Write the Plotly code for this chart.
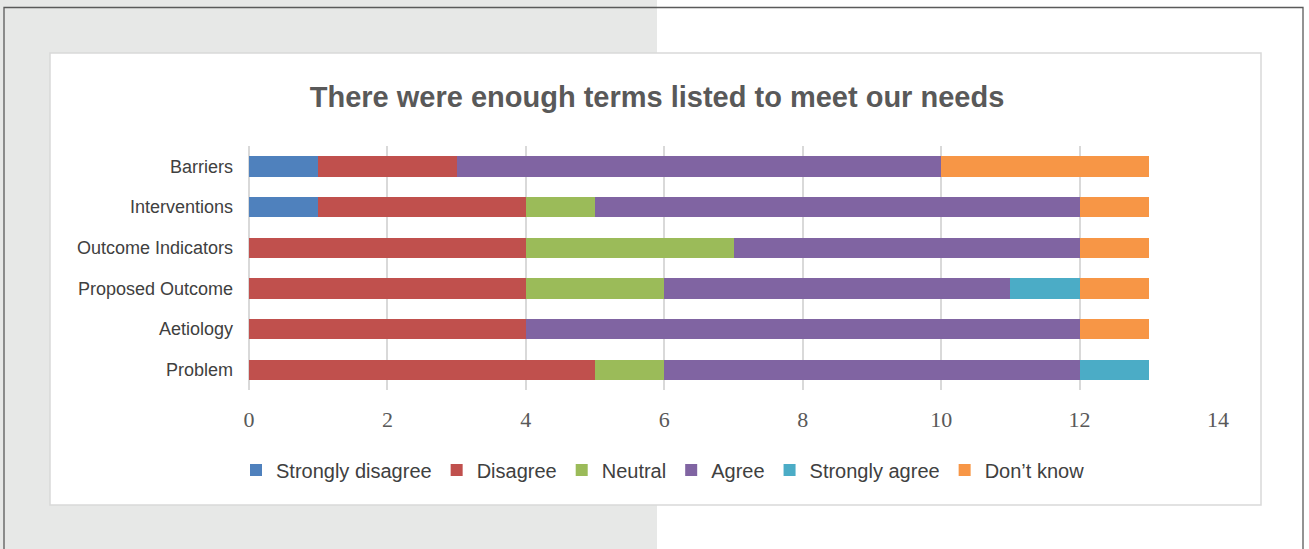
import plotly.graph_objects as go

categories = ["Barriers", "Interventions", "Outcome Indicators", "Proposed Outcome", "Aetiology", "Problem"]
strongly_disagree = [1, 1, 0, 0, 0, 0]
disagree = [2, 3, 4, 4, 4, 5]
neutral = [0, 1, 3, 2, 0, 1]
agree = [7, 7, 5, 5, 8, 6]
strongly_agree = [0, 0, 0, 1, 0, 1]
dont_know = [3, 1, 1, 1, 1, 0]

series_names = ["Strongly disagree", "Disagree", "Neutral", "Agree", "Strongly agree", "Don\u2019t know"]
series_values = [strongly_disagree, disagree, neutral, agree, strongly_agree, dont_know]
colors = ["#4F81BD", "#C0504D", "#9BBB59", "#8064A2", "#4BACC6", "#F79646"]
x_ticks = [0, 2, 4, 6, 8, 10, 12, 14]

W, H = 1309, 549
L, R, T, B = 249, 1218, 146, 390  # plot area pixels

fig = go.Figure()
for name, vals, col in zip(series_names, series_values, colors):
    fig.add_trace(go.Bar(y=categories, x=vals, name=name, orientation="h",
                         marker=dict(color=col, line=dict(width=0))))

def px(x):
    return (x - L) / (R - L)

def py(y):
    return (B - y) / (B - T)

shapes = [
    dict(type="rect", xref="paper", yref="paper", x0=px(-2), x1=px(657), y0=py(551), y1=py(-2),
         fillcolor="#E7E8E7", line=dict(width=0), layer="below"),
    dict(type="rect", xref="paper", yref="paper", x0=px(50), x1=px(1261), y0=py(505), y1=py(53),
         fillcolor="#FFFFFF", line=dict(color="#D9D9D9", width=1.5), layer="below"),
    dict(type="rect", xref="paper", yref="paper", x0=px(4), x1=px(1303), y0=py(560), y1=py(7.5),
         fillcolor="rgba(0,0,0,0)", line=dict(color="#5A5A5A", width=1.3), layer="below"),
]

fig.update_layout(
    width=W, height=H,
    margin=dict(l=L, r=W - R, t=T, b=H - B, pad=0),
    paper_bgcolor="#FFFFFF",
    plot_bgcolor="rgba(0,0,0,0)",
    barmode="stack",
    bargap=0.5,
    shapes=shapes,
    title=dict(text="<b>There were enough terms listed to meet our needs</b>",
               x=657 / W, xanchor="center", y=1 - 97 / H, yanchor="middle",
               font=dict(family="Liberation Sans, Arial", size=29, color="#595959")),
    xaxis=dict(range=[0, 14], tickvals=x_ticks, showgrid=True, gridcolor="#D9D9D9", gridwidth=1.5,
               zeroline=True, zerolinecolor="#D9D9D9", zerolinewidth=1.5, showline=False,
               ticks="", ticklabelstandoff=14,
               tickfont=dict(family="Liberation Serif, DejaVu Serif", size=22, color="#595959")),
    yaxis=dict(autorange="reversed", showgrid=False, zeroline=False, showline=False, ticks="",
               ticklabelstandoff=15,
               tickfont=dict(family="Liberation Sans, Arial", size=18, color="#404040")),
    legend=dict(orientation="h", x=px(663), xanchor="center", y=py(470), yanchor="middle",
                traceorder="normal", bgcolor="rgba(0,0,0,0)",
                font=dict(family="Liberation Sans, Arial", size=20, color="#404040")),
    showlegend=True,
)

fig.write_html("out.html", config={"displayModeBar": False},
               post_script="document.body.style.margin='0';document.body.style.overflow='hidden';")
